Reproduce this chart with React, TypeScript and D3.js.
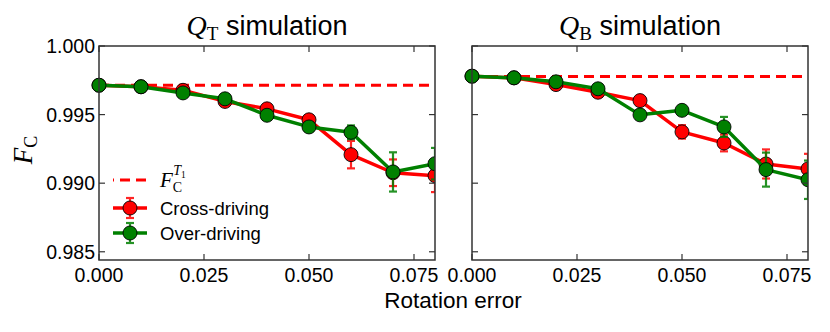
import React from "react";
import * as d3 from "d3";

const rotationErrors = [0, 0.01, 0.02, 0.03, 0.04, 0.05, 0.06, 0.07, 0.08];

const qtCross = [0.99714, 0.99703, 0.99677, 0.99596, 0.99542, 0.99462, 0.99208, 0.99076, 0.99055];
const qtCrossErr = [0.00005, 0.00005, 0.0001, 0.0001, 0.00015, 0.0002, 0.001, 0.00097, 0.0012];
const qtOver = [0.99714, 0.99703, 0.99658, 0.99615, 0.99495, 0.9941, 0.99371, 0.99082, 0.99142];
const qtOverErr = [0.00005, 0.00005, 0.0001, 0.0001, 0.00015, 0.0002, 0.0005, 0.00143, 0.00115];
const qtReference = 0.99714;

const qbCross = [0.9978, 0.99768, 0.99719, 0.99663, 0.99602, 0.99374, 0.99293, 0.9914, 0.99104];
const qbCrossErr = [0.00005, 0.00005, 0.0001, 0.0001, 0.00015, 0.00049, 0.00061, 0.00106, 0.0011];
const qbOver = [0.9978, 0.99768, 0.99739, 0.99688, 0.99498, 0.99531, 0.9941, 0.99099, 0.99025];
const qbOverErr = [0.00005, 0.00005, 0.0001, 0.0001, 0.00015, 0.0002, 0.00073, 0.00124, 0.0014];
const qbReference = 0.99778;

const xTicks = [0, 0.025, 0.05, 0.075];
const xTickLabels = ["0.000", "0.025", "0.050", "0.075"];
const yTicks = [0.985, 0.99, 0.995, 1.0];
const yTickLabels = ["0.985", "0.990", "0.995", "1.000"];

const RED = "#ff0000";
const GREEN = "#008000";
const SANS = "'Liberation Sans', Arial, sans-serif";
const SERIF = "'Liberation Serif', 'Times New Roman', serif";

const TOP = 46;
const BOTTOM = 260;

const y = d3.scaleLinear().domain([0.9844, 1.0]).range([BOTTOM, TOP]);

function Series({ x, vals, errs, color }: { x: d3.ScaleLinear<number, number>; vals: number[]; errs: number[]; color: string }) {
  const line = d3
    .line<number>()
    .x((_, i) => x(rotationErrors[i]))
    .y((v) => y(v));
  return (
    <g>
      {vals.map((v, i) => {
        const cx = x(rotationErrors[i]);
        const y1 = y(v - errs[i]);
        const y2 = y(v + errs[i]);
        return (
          <g key={i} stroke={color} strokeWidth={2.2} opacity={0.85}>
            <line x1={cx} x2={cx} y1={y1} y2={y2} />
            <line x1={cx - 4} x2={cx + 4} y1={y1} y2={y1} />
            <line x1={cx - 4} x2={cx + 4} y1={y2} y2={y2} />
          </g>
        );
      })}
      <path d={line(vals) || ""} fill="none" stroke={color} strokeWidth={3.5} strokeLinejoin="round" />
      {vals.map((v, i) => (
        <circle key={i} cx={x(rotationErrors[i])} cy={y(v)} r={7} fill={color} stroke="#000" strokeWidth={0.9} />
      ))}
    </g>
  );
}

function Panel({
  x0,
  x1,
  cross,
  crossErr,
  over,
  overErr,
  reference,
  sub,
  showYLabels,
  children,
}: {
  x0: number;
  x1: number;
  cross: number[];
  crossErr: number[];
  over: number[];
  overErr: number[];
  reference: number;
  sub: string;
  showYLabels: boolean;
  children?: React.ReactNode;
}) {
  const x = d3.scaleLinear().domain([0, 0.08]).range([x0, x1]);
  const clipId = `clip-${sub}`;
  const cx = (x0 + x1) / 2;
  return (
    <g>
      <defs>
        <clipPath id={clipId}>
          <rect x={x0 - 8} y={TOP - 8} width={x1 - x0 + 8} height={BOTTOM - TOP + 16} />
        </clipPath>
      </defs>
      <g clipPath={`url(#${clipId})`}>
        <line
          x1={x(0)}
          x2={x(0.08)}
          y1={y(reference)}
          y2={y(reference)}
          stroke={RED}
          strokeWidth={3}
          strokeDasharray="10,6"
        />
        <Series x={x} vals={cross} errs={crossErr} color={RED} />
        <Series x={x} vals={over} errs={overErr} color={GREEN} />
      </g>
      <rect x={x0} y={TOP} width={x1 - x0} height={BOTTOM - TOP} fill="none" stroke="#333" strokeWidth={1.5} />
      {xTicks.map((t, i) => (
        <g key={i}>
          <line x1={x(t)} x2={x(t)} y1={BOTTOM} y2={BOTTOM - 6} stroke="#333" strokeWidth={1.2} />
          <line x1={x(t)} x2={x(t)} y1={TOP} y2={TOP + 6} stroke="#333" strokeWidth={1.2} />
          <text x={x(t)} y={282} textAnchor="middle" fontFamily={SANS} fontSize={19.5} fill="#000">
            {xTickLabels[i]}
          </text>
        </g>
      ))}
      {yTicks.map((t, i) => (
        <g key={i}>
          <line x1={x0} x2={x0 + 6} y1={y(t)} y2={y(t)} stroke="#333" strokeWidth={1.2} />
          <line x1={x1} x2={x1 - 6} y1={y(t)} y2={y(t)} stroke="#333" strokeWidth={1.2} />
          {showYLabels && (
            <text x={x0 - 4} y={y(t) + 7} textAnchor="end" fontFamily={SANS} fontSize={19.5} fill="#000">
              {yTickLabels[i]}
            </text>
          )}
        </g>
      ))}
      <text x={cx} y={35} textAnchor="middle" fill="#000">
        <tspan fontFamily={SERIF} fontStyle="italic" fontSize={28}>
          Q
        </tspan>
        <tspan fontFamily={SERIF} fontSize={19} dy={5}>
          {sub}
        </tspan>
        <tspan fontFamily={SANS} fontSize={27} dy={-5}>
          {" simulation"}
        </tspan>
      </text>
      {children}
    </g>
  );
}

function Legend() {
  const hx0 = 113;
  const hx1 = 147;
  const hm = 130;
  const tx = 160;
  const rows = [208, 233];
  const colors = [RED, GREEN];
  const labels = ["Cross-driving", "Over-driving"];
  return (
    <g>
      <line x1={hx0} x2={hx1} y1={180} y2={180} stroke={RED} strokeWidth={3} strokeDasharray="10,6" strokeDashoffset={-7} />
      <text x={tx} y={187} fill="#000" fontFamily={SERIF}>
        <tspan fontStyle="italic" fontSize={21}>F</tspan>
        <tspan fontSize={14} dy={5}>C</tspan>
        <tspan fontStyle="italic" fontSize={14} dx={-9} dy={-17}>T</tspan>
        <tspan fontSize={9.5} dy={3}>1</tspan>
      </text>
      {rows.map((ry, i) => (
        <g key={i}>
          <g stroke={colors[i]} strokeWidth={2.2} opacity={0.85}>
            <line x1={hm} x2={hm} y1={ry - 10} y2={ry + 10} />
            <line x1={hm - 4} x2={hm + 4} y1={ry - 10} y2={ry - 10} />
            <line x1={hm - 4} x2={hm + 4} y1={ry + 10} y2={ry + 10} />
          </g>
          <line x1={hx0} x2={hx1} y1={ry} y2={ry} stroke={colors[i]} strokeWidth={3.5} />
          <circle cx={hm} cy={ry} r={7} fill={colors[i]} stroke="#000" strokeWidth={0.9} />
          <text x={tx} y={ry + 6.5} fontFamily={SANS} fontSize={18.5} fill="#000">
            {labels[i]}
          </text>
        </g>
      ))}
    </g>
  );
}

export default function App() {
  return (
    <svg
      width={830}
      height={332}
      viewBox="0 0 830 332"
      style={{ position: "absolute", left: 0, top: 0, background: "#fff" }}
    >
      <rect x={0} y={0} width={830} height={332} fill="#fff" />
      <Panel
        x0={99}
        x1={435}
        cross={qtCross}
        crossErr={qtCrossErr}
        over={qtOver}
        overErr={qtOverErr}
        reference={qtReference}
        sub="T"
        showYLabels={true}
      >
        <Legend />
      </Panel>
      <Panel
        x0={472}
        x1={808}
        cross={qbCross}
        crossErr={qbCrossErr}
        over={qbOver}
        overErr={qbOverErr}
        reference={qbReference}
        sub="B"
        showYLabels={false}
      />
      <text x={453} y={308} textAnchor="middle" fontFamily={SANS} fontSize={22.5} fill="#000">
        Rotation error
      </text>
      <text transform="translate(32,150) rotate(-90)" textAnchor="middle" fill="#000" fontFamily={SERIF}>
        <tspan fontStyle="italic" fontSize={27}>F</tspan>
        <tspan fontSize={18} dy={5}>C</tspan>
      </text>
    </svg>
  );
}
